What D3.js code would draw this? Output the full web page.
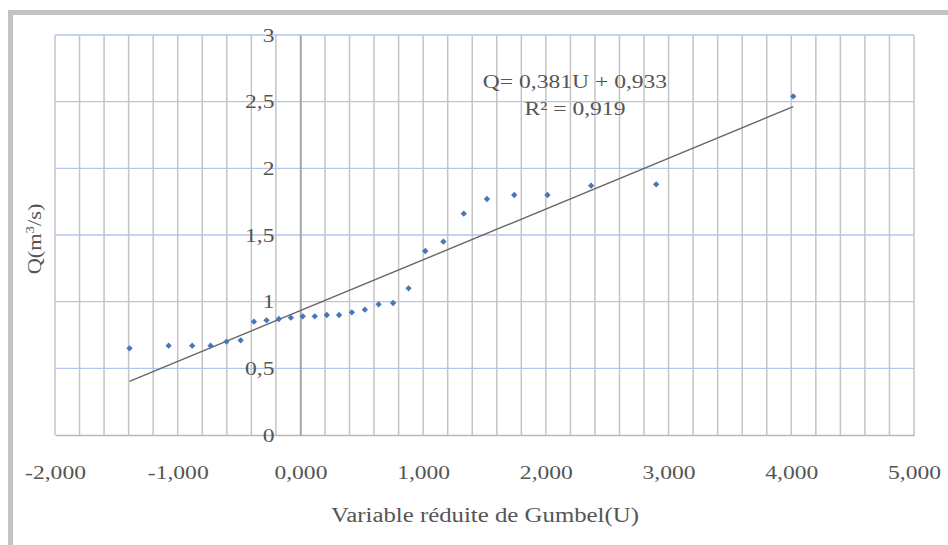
<!DOCTYPE html>
<html>
<head>
<meta charset="utf-8">
<script src="https://cdn.jsdelivr.net/npm/d3@7/dist/d3.min.js"></script>
<style>
  html, body { margin: 0; padding: 0; background: #ffffff; }
  svg { display: block; }
  text { font-family: "Liberation Serif", "Times New Roman", serif; fill: #555555; }
</style>
</head>
<body>
<svg id="chart" width="948" height="545"></svg>
<script>
// Gumbel reduced variate U (Hazen plotting positions) and observed discharge Q (m3/s)
const gumbelU = [
  -1.393, -1.074, -0.882, -0.732, -0.603, -0.487, -0.379, -0.276, -0.176, -0.078,
   0.019,  0.117,  0.215,  0.315,  0.419,  0.525,  0.637,  0.755,  0.881,  1.017,
   1.165,  1.331,  1.520,  1.742,  2.013,  2.369,  2.899,  4.016
];
const dischargeQ = [
  0.65, 0.67, 0.67, 0.67, 0.70, 0.71, 0.85, 0.86, 0.87, 0.88,
  0.89, 0.89, 0.90, 0.90, 0.92, 0.94, 0.98, 0.99, 1.10, 1.38,
  1.45, 1.66, 1.77, 1.80, 1.80, 1.87, 1.88, 2.54
];
// Linear trend fitted to the series
const trendSlope = 0.381;
const trendIntercept = 0.933;
const trendR2 = 0.919;

const xTicks = [-2, -1, 0, 1, 2, 3, 4, 5];
const yTicks = [0, 0.5, 1, 1.5, 2, 2.5, 3];

const locale = d3.formatLocale({ decimal: ",", thousands: " ", grouping: [3], currency: ["", " €"], minus: "-" });
const fmtX = locale.format(".3f");
const fmtY = locale.format(".1~f");
const fmtC = locale.format(".3f");

const svg = d3.select("#chart");
const W = 948, H = 545;
const plot = { left: 55, right: 914, top: 35, bottom: 435 };

const x = d3.scaleLinear().domain([-2, 5]).range([plot.left, plot.right]);
const y = d3.scaleLinear().domain([0, 3]).range([plot.bottom, plot.top]);

// Widen serif glyphs horizontally
const STRETCH = 1.24;
function stretch(sel) {
  sel.each(function () {
    const w = this.getComputedTextLength();
    this.setAttribute("textLength", (w * STRETCH).toFixed(1));
    this.setAttribute("lengthAdjust", "spacingAndGlyphs");
  });
}

// Outer frame (top and left bars)
svg.append("rect").attr("x", 8).attr("y", 10).attr("width", W - 8).attr("height", 5).attr("fill", "#c3c3c3");
svg.append("rect").attr("x", 8).attr("y", 10).attr("width", 5).attr("height", H - 10).attr("fill", "#c3c3c3");

// Vertical minor gridlines every 0.2
const vGrid = x.ticks(35);
svg.append("g").selectAll("line").data(vGrid).join("line")
  .attr("x1", d => x(d)).attr("x2", d => x(d))
  .attr("y1", plot.top).attr("y2", plot.bottom)
  .attr("stroke", "#c4c4c4").attr("stroke-width", 1.5);

// Horizontal gridlines
svg.append("g").selectAll("line").data(yTicks.filter(d => d > 0)).join("line")
  .attr("x1", plot.left).attr("x2", plot.right)
  .attr("y1", d => y(d)).attr("y2", d => y(d))
  .attr("stroke", "#b3c6ea").attr("stroke-width", 1.3);

// X axis at Q = 0
const xAxis = svg.append("g")
  .attr("transform", `translate(0,${plot.bottom})`)
  .call(d3.axisBottom(x).tickValues(xTicks).tickFormat(fmtX).tickSize(0).tickSizeOuter(0).tickPadding(31));
xAxis.select(".domain").attr("stroke", "#b8b8b8").attr("stroke-width", 1.5);
xAxis.selectAll("text").attr("font-size", 19).attr("fill", "#555555")
  .style("font-family", '"Liberation Serif", serif');
stretch(xAxis.selectAll("text"));

// Y axis crossing at U = 0
const yAxis = svg.append("g")
  .attr("transform", `translate(${x(0)},0)`)
  .call(d3.axisLeft(y).tickValues(yTicks).tickFormat(fmtY).tickSize(0).tickSizeOuter(0).tickPadding(26));
yAxis.select(".domain").attr("stroke", "#9e9e9e").attr("stroke-width", 1.5);
yAxis.selectAll("text").attr("font-size", 19).attr("fill", "#555555")
  .style("font-family", '"Liberation Serif", serif');
stretch(yAxis.selectAll("text"));

// Trendline over the observed range
const uExt = d3.extent(gumbelU);
svg.append("line")
  .attr("x1", x(uExt[0])).attr("y1", y(trendSlope * uExt[0] + trendIntercept))
  .attr("x2", x(uExt[1])).attr("y2", y(trendSlope * uExt[1] + trendIntercept))
  .attr("stroke", "#666666").attr("stroke-width", 1.4);

// Observations (diamond markers)
const pts = gumbelU.map((u, i) => ({ u, q: dischargeQ[i] }));
svg.append("g").selectAll("path").data(pts).join("path")
  .attr("d", d3.symbol(d3.symbolSquare, 20))
  .attr("transform", d => `translate(${x(d.u)},${y(d.q)}) rotate(45)`)
  .attr("fill", "#4677bb");

// Equation label
const eq = svg.append("g").attr("font-size", 19);
eq.append("text").attr("x", 575).attr("y", 88).attr("text-anchor", "middle")
  .attr("fill", "#4a4a4a")
  .text(`Q= ${fmtC(trendSlope)}U + ${fmtC(trendIntercept)}`);
eq.append("text").attr("x", 575).attr("y", 115).attr("text-anchor", "middle")
  .attr("fill", "#4a4a4a")
  .text(`R² = ${fmtC(trendR2)}`);
stretch(eq.selectAll("text"));

// Axis titles
const xt = svg.append("text").attr("x", 485).attr("y", 522).attr("text-anchor", "middle")
  .attr("font-size", 20).text("Variable réduite de Gumbel(U)");
stretch(xt);

const yt = svg.append("text")
  .attr("transform", "translate(41,239) rotate(-90)")
  .attr("text-anchor", "middle").attr("font-size", 18);
yt.append("tspan").text("Q(m");
yt.append("tspan").attr("font-size", 12).attr("dy", -7).text("3");
yt.append("tspan").attr("dy", 7).text("/s)");
stretch(yt);
</script>
</body>
</html>
